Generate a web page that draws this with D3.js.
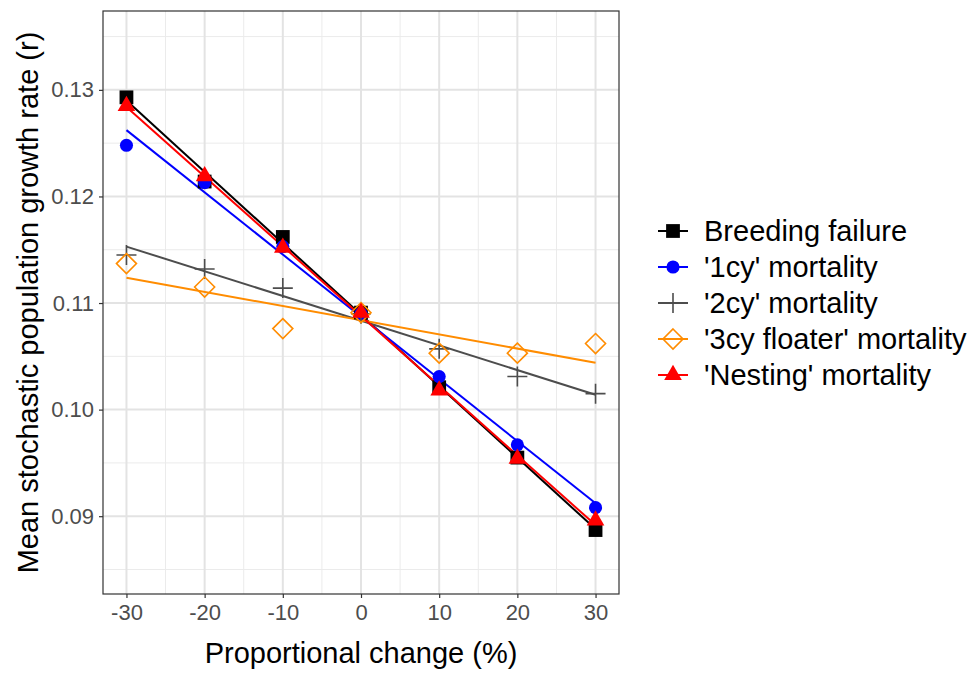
<!DOCTYPE html>
<html>
<head>
<meta charset="utf-8">
<script src="https://cdn.jsdelivr.net/npm/d3@7"></script>
<style>
  body { margin: 0; background: #fff; }
  svg { font-family: "Liberation Sans", Arial, sans-serif; }
</style>
</head>
<body>
<div id="chart"></div>
<script>
// --------------------------------------
//  Data
// --------------------------------------

const changes = [-30, -20, -10, 0, 10, 20, 30];

const breedingFailure = [0.1293, 0.1214, 0.1162, 0.1091, 0.1021, 0.0955, 0.0887];
const mort1cy        = [0.1248, 0.1213, 0.1153, 0.1090, 0.1031, 0.0967, 0.0908];
const mort2cy        = [0.1145, 0.1132, 0.1114, 0.1090, 0.1057, 0.1031, 0.1015];
const mort3cyFloater = [0.1137, 0.1115, 0.1076, 0.1091, 0.1053, 0.1053, 0.1062];
const mortNesting    = [0.1285, 0.1219, 0.1152, 0.1091, 0.1018, 0.0954, 0.0896];

const seriesNames = ["Breeding failure", "'1cy' mortality", "'2cy' mortality",
                     "'3cy floater' mortality", "'Nesting' mortality"];
const seriesValues = [breedingFailure, mort1cy, mort2cy, mort3cyFloater, mortNesting];
const seriesColors = ["#000000", "#0000ff", "#4d4d4d", "#ff8c00", "#ff0000"];
const seriesShapes = ["square", "circle", "plus", "diamond", "triangle"];

const xTicks = [-30, -20, -10, 0, 10, 20, 30];
const yTicks = [0.09, 0.10, 0.11, 0.12, 0.13];

// --------------------------------------
//  Canvas
// --------------------------------------

const width = 976, height = 674;
const margin = {left: 103, top: 11, right: 357, bottom: 80};
const innerwidth = width - margin.left - margin.right;
const innerheight = height - margin.top - margin.bottom;

const svg = d3.select("#chart")
  .append("svg")
    .attr("width", width)
    .attr("height", height);

const inner = svg.append("g")
    .attr("transform", `translate(${margin.left}, ${margin.top})`);

// --------------------------------------
//  Scales
// --------------------------------------

const x = d3.scaleLinear().domain([-33, 33]).range([0, innerwidth]);
const y = d3.scaleLinear().domain([0.0827, 0.1374]).range([innerheight, 0]);

// grid
const xMinor = d3.range(-35, 36, 10).filter(v => v > -33 && v < 33);
const yMinor = d3.range(0.085, 0.14, 0.01);

inner.append("g").selectAll("line").data(xMinor).join("line")
    .attr("x1", d => x(d)).attr("x2", d => x(d))
    .attr("y1", 0).attr("y2", innerheight)
    .attr("stroke", "#ebebeb").attr("stroke-width", 1);
inner.append("g").selectAll("line").data(yMinor).join("line")
    .attr("y1", d => y(d)).attr("y2", d => y(d))
    .attr("x1", 0).attr("x2", innerwidth)
    .attr("stroke", "#ebebeb").attr("stroke-width", 1);
inner.append("g").selectAll("line").data(xTicks).join("line")
    .attr("x1", d => x(d)).attr("x2", d => x(d))
    .attr("y1", 0).attr("y2", innerheight)
    .attr("stroke", "#e3e3e3").attr("stroke-width", 2);
inner.append("g").selectAll("line").data(yTicks).join("line")
    .attr("y1", d => y(d)).attr("y2", d => y(d))
    .attr("x1", 0).attr("x2", innerwidth)
    .attr("stroke", "#e3e3e3").attr("stroke-width", 2);

// --------------------------------------
//  Fitted lines
// --------------------------------------

function fit(vals) {
  const mx = d3.mean(changes), my = d3.mean(vals);
  const sxy = d3.sum(changes, (c, i) => (c - mx) * (vals[i] - my));
  const sxx = d3.sum(changes, c => (c - mx) * (c - mx));
  const b = sxy / sxx;
  return c => my + b * (c - mx);
}

seriesValues.forEach((vals, i) => {
  const f = fit(vals);
  const ends = [d3.min(changes), d3.max(changes)];
  inner.append("path")
      .datum(ends)
      .attr("fill", "none")
      .attr("stroke", seriesColors[i])
      .attr("stroke-width", 2)
      .attr("d", d3.line().x(c => x(c)).y(c => y(f(c))));
});

// --------------------------------------
//  Points
// --------------------------------------

function drawShape(g, shape, color) {
  if (shape === "square") {
    g.append("path").attr("d", d3.symbol(d3.symbolSquare, 190)()).attr("fill", color);
  } else if (shape === "circle") {
    g.append("path").attr("d", d3.symbol(d3.symbolCircle, 135)()).attr("fill", color);
  } else if (shape === "triangle") {
    g.append("path").attr("d", d3.symbol(d3.symbolTriangle, 135)()).attr("fill", color);
  } else if (shape === "plus") {
    g.append("path").attr("d", "M-10,0H10M0,-10V10")
      .attr("stroke", color).attr("stroke-width", 1.6).attr("fill", "none");
  } else if (shape === "diamond") {
    g.append("path").attr("d", "M0,-10L10,0L0,10L-10,0Z")
      .attr("stroke", color).attr("stroke-width", 1.6).attr("fill", "none");
  }
}

seriesValues.forEach((vals, i) => {
  inner.append("g").selectAll("g").data(vals).join("g")
      .attr("transform", (d, j) => `translate(${x(changes[j])}, ${y(d)})`)
      .each(function() { drawShape(d3.select(this), seriesShapes[i], seriesColors[i]); });
});

// panel border
inner.append("rect")
    .attr("width", innerwidth).attr("height", innerheight)
    .attr("fill", "none").attr("stroke", "#333").attr("stroke-width", 1.2);

// --------------------------------------
//  Axes
// --------------------------------------

const xAxis = inner.append("g")
    .attr("transform", `translate(0, ${innerheight})`)
    .call(d3.axisBottom(x).tickValues(xTicks).tickSize(4).tickPadding(5).tickFormat(d3.format("d")));
const yAxis = inner.append("g")
    .call(d3.axisLeft(y).tickValues(yTicks).tickSize(4).tickPadding(5).tickFormat(d3.format(".2f")));

[xAxis, yAxis].forEach(a => {
  a.select(".domain").remove();
  a.selectAll(".tick line").attr("stroke", "#333").attr("stroke-width", 1.2);
  a.selectAll(".tick text")
    .attr("fill", "#4d4d4d")
    .style("font-size", "22px")
    .style("font-family", "'Liberation Sans', Arial, sans-serif");
});
xAxis.selectAll(".tick text").attr("dy", "0.78em").text(d => d < 0 ? "-" + Math.abs(d) : d);

svg.append("text")
    .attr("x", margin.left + innerwidth / 2)
    .attr("y", 663)
    .attr("text-anchor", "middle")
    .style("font-size", "29px")
    .text("Proportional change (%)");

svg.append("text")
    .attr("transform", `translate(38, ${margin.top + innerheight / 2}) rotate(-90)`)
    .attr("text-anchor", "middle")
    .style("font-size", "29px")
    .text("Mean stochastic population growth rate (r)");

// --------------------------------------
//  Legend
// --------------------------------------

const legend = svg.append("g").attr("transform", "translate(658, 231)");
seriesNames.forEach((name, i) => {
  const row = legend.append("g").attr("transform", `translate(0, ${i * 36})`);
  row.append("line").attr("x1", 0).attr("x2", 30)
    .attr("stroke", seriesColors[i]).attr("stroke-width", 2);
  const key = row.append("g").attr("transform", "translate(15, 0)");
  drawShape(key, seriesShapes[i], seriesColors[i]);
  row.append("text")
    .attr("x", 46).attr("dy", "0.35em")
    .style("font-size", "29px")
    .text(name);
});
</script>
</body>
</html>
